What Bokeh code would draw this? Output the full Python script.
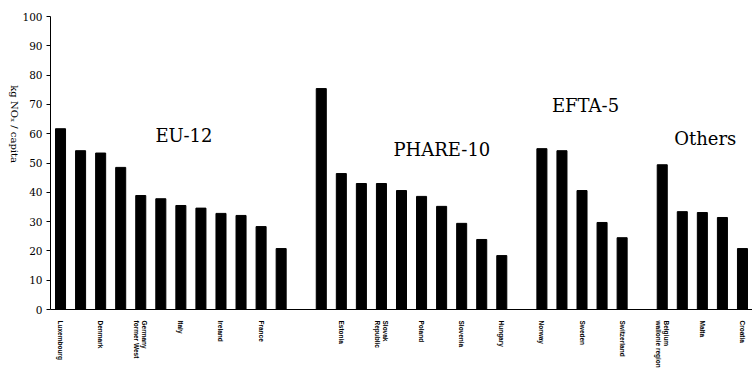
import math
from bokeh.plotting import figure
from bokeh.models import FixedTicker, Label, Range1d
from bokeh.embed import file_html
from bokeh.resources import INLINE

# ---- data (kg NOx per capita) ----
group_names = ["EU-12", "PHARE-10", "EFTA-5", "Others"]

eu12_values = [61.7, 54.2, 53.4, 48.5, 38.9, 37.8, 35.5, 34.6, 32.8, 32.1, 28.3, 20.8]
eu12_labels = ["Luxembourg", "", "Denmark", "", "Germany\nformer West", "",
               "Italy", "", "Ireland", "", "France", ""]

phare10_values = [75.4, 46.4, 43.0, 43.0, 40.6, 38.6, 35.2, 29.4, 23.9, 18.4]
phare10_labels = ["", "Estonia", "", "Slovak\nRepublic", "", "Poland", "",
                  "Slovenia", "", "Hungary"]

efta5_values = [54.9, 54.2, 40.6, 29.7, 24.5]
efta5_labels = ["Norway", "", "Sweden", "", "Switzerland"]

others_values = [49.4, 33.4, 33.1, 31.4, 20.8]
others_labels = ["Belgium\nwallonie region", "", "Malta", "", "Croatia"]

y_ticks = [0, 10, 20, 30, 40, 50, 60, 70, 80, 90, 100]
y_title = "kg NO\u2093 / capita"

# ---- build category positions (one empty slot between groups) ----
all_values = [eu12_values, phare10_values, efta5_values, others_values]
all_labels = [eu12_labels, phare10_labels, efta5_labels, others_labels]
xs, tops, tick_pos, tick_text = [], [], [], {}
pos = 1
for vals, labs in zip(all_values, all_labels):
    for v, lab in zip(vals, labs):
        xs.append(pos)
        tops.append(v)
        if lab:
            tick_pos.append(pos)
            tick_text[pos] = lab
        pos += 1
    pos += 1
n_cat = pos - 2

SERIF = "DejaVu Serif"

p = figure(width=752, height=370, output_backend="svg", toolbar_location=None,
           x_range=Range1d(0.5, n_cat + 0.5), y_range=Range1d(0, 100),
           min_border_left=50, min_border_right=0, min_border_top=16,
           min_border_bottom=61)
p.outline_line_color = None
p.xgrid.visible = False
p.ygrid.visible = False
p.background_fill_color = "white"
p.border_fill_color = "white"

p.vbar(x=xs, top=tops, width=0.5, color="black")

# y axis
ya = p.yaxis[0]
ya.ticker = FixedTicker(ticks=y_ticks)
ya.major_tick_in = 0
ya.major_tick_out = 4
ya.minor_tick_line_color = None
ya.major_label_text_font = SERIF
ya.major_label_text_font_size = "10.5px"
ya.major_label_text_color = "black"
ya.major_label_standoff = 4
ya.axis_line_color = "black"
ya.major_tick_line_color = "black"
ya.axis_label = y_title
ya.axis_label_text_font = SERIF
ya.axis_label_text_font_style = "normal"
ya.axis_label_text_font_size = "10px"
ya.axis_label_text_color = "black"
ya.axis_label_standoff = 5
try:
    ya.axis_label_orientation = -math.pi / 2
except Exception:
    pass

# x axis
xa = p.xaxis[0]
xa.ticker = FixedTicker(ticks=tick_pos)
xa.major_label_overrides = tick_text
xa.major_label_orientation = -math.pi / 2
xa.major_label_text_font = "Liberation Sans"
xa.major_label_text_font_style = "bold"
xa.major_label_text_font_size = "6.5px"
xa.major_label_text_color = "black"
xa.major_label_standoff = 5
xa.major_tick_line_color = None
xa.minor_tick_line_color = None
xa.axis_line_color = "black"

# group labels
group_pos = [(5.73, 59.3), (17.6, 54.6), (25.5, 69.6), (31.6, 58.3)]
for name, (gx, gy) in zip(group_names, group_pos):
    p.add_layout(Label(x=gx, y=gy, text=name, text_font=SERIF,
                       text_font_size="18px", text_baseline="alphabetic",
                       text_color="black"))

open("out.html", "w").write(file_html(p, INLINE))
